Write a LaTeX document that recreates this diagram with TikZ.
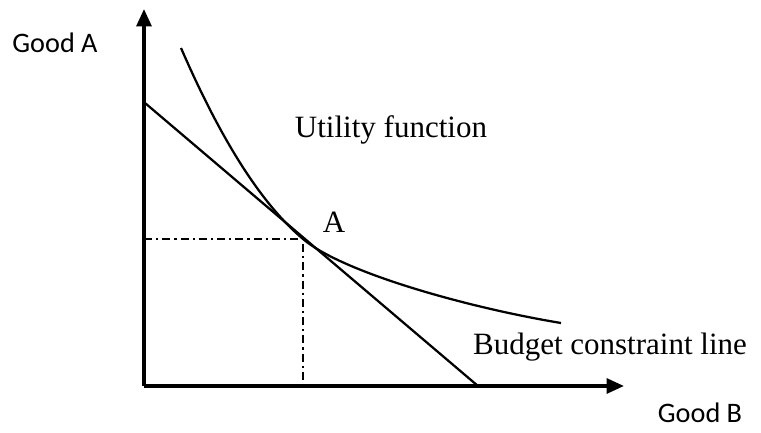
\documentclass[tikz,border=0pt]{standalone}
\usepackage{fontspec}
\setmainfont{Liberation Serif}
\newfontfamily\labelfont{Carlito}
\usetikzlibrary{positioning,arrows.meta}

\begin{document}
\begin{tikzpicture}[x=0.4pt,y=0.4pt,every node/.style={font=\fontsize{12.4}{14}\selectfont}]
  \useasboundingbox (0,0) rectangle (761,433);
  % axes
  \coordinate (O) at (144,47);
  \coordinate (ytip) at (144,424);
  \coordinate (xtip) at (624,47);
  \draw[-{Triangle[length=7pt,width=6pt]},line width=1.3pt] (O) -- (ytip);
  \draw[-{Triangle[length=7pt,width=6pt]},line width=1.3pt] (O) -- (xtip);
  \node[font=\labelfont\fontsize{11.3}{13}\selectfont] (goodA) at (55,390) {Good A};
  \node[font=\labelfont\fontsize{11.3}{13}\selectfont] (goodB) at (700,20) {Good B};
  % budget line and utility curve
  \coordinate (bTop) at (145,330);
  \coordinate (bEnd) at (478,47);
  \coordinate (A) at (303,194);
  \coordinate (uStart) at (181,385);
  \coordinate (uEnd) at (561,110);
  \coordinate (Ay) at (144,194);
  \coordinate (Ax) at (303,47);
  \draw[line width=0.9pt] (bTop) -- (bEnd);
  \draw[line width=0.9pt] (uStart) .. controls (218,300) and (258,232) .. (A)
    .. controls (343,160) and (470,125) .. (uEnd);
  \draw[line width=0.9pt,dash pattern=on 3.2pt off 1.6pt on 0.9pt off 1.6pt] (Ay) -- (A) -- (Ax);
  \node (util) at (391,303) {Utility function};
  \node (lblA) at (334,211) {A};
  \node (budget) at (610,86) {Budget constraint line};
\end{tikzpicture}
\end{document}
